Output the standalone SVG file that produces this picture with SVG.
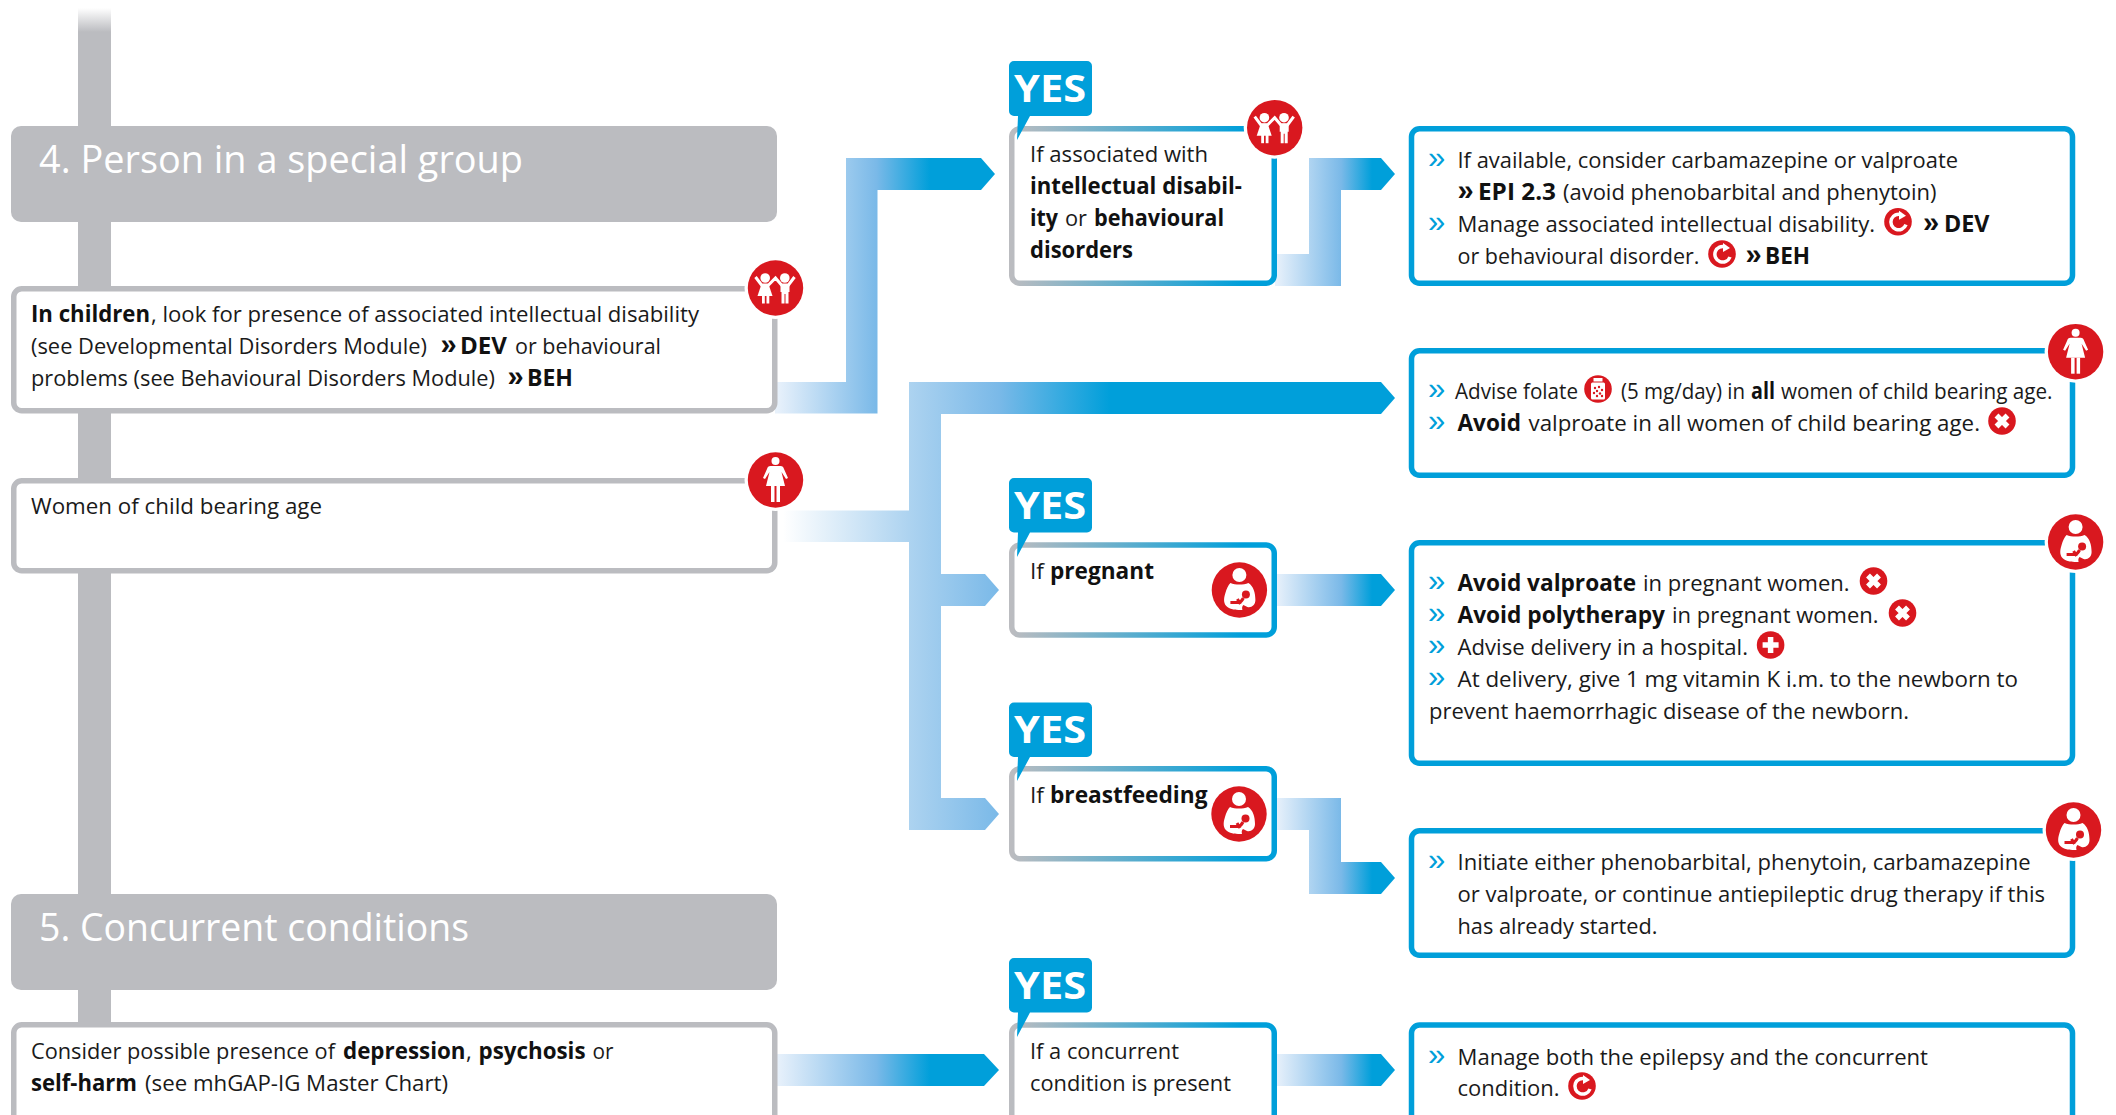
<svg xmlns="http://www.w3.org/2000/svg" width="2116" height="1115" viewBox="0 0 2116 1115">
<style>
text{font-family:"Open Sans","Noto Sans","Liberation Sans",sans-serif;font-size:22.5px;fill:#1a1a1a}
.b{font-weight:700;fill:#111}
.h{font-size:38px;fill:#fff}
.y{font-size:37px;font-weight:700;fill:#fff}
.m{font-family:"Liberation Sans",Arial,sans-serif;font-weight:400;fill:#009fda;font-size:31px}
.d{font-family:"Liberation Sans",Arial,sans-serif;font-weight:700;fill:#111;font-size:29px}
.gb{fill:#fff;stroke:#bbbcc0;stroke-width:5.5}
.bb{fill:#fff;stroke:#009fda;stroke-width:5.5}
.mb{fill:#fff;stroke:url(#bord);stroke-width:5.5}
.hd{fill:#bbbcc0}
.yb{fill:#009fda}
.r{fill:#d9181f}
.w{fill:#fff}
.ws{fill:none;stroke:#fff}
</style>
<defs>
<linearGradient id="fade" x1="0" y1="0" x2="0" y2="1"><stop offset="0" stop-color="#fff"/><stop offset="1" stop-color="#bbbcc0"/></linearGradient>
<linearGradient id="bord" x1="0" y1="0" x2="1" y2="0"><stop offset="0" stop-color="#bbbcc0"/><stop offset="0.88" stop-color="#009fda"/></linearGradient>
<linearGradient id="g1" gradientUnits="userSpaceOnUse" x1="777" y1="0" x2="930" y2="0"><stop offset="0" stop-color="#e8f1fb"/><stop offset="0.65" stop-color="#7ab9e8"/><stop offset="1" stop-color="#009fda"/></linearGradient>
<linearGradient id="g2" gradientUnits="userSpaceOnUse" x1="1276" y1="0" x2="1372" y2="0"><stop offset="0" stop-color="#e8f1fb"/><stop offset="0.68" stop-color="#7ab9e8"/><stop offset="1" stop-color="#009fda"/></linearGradient>
<linearGradient id="g3" gradientUnits="userSpaceOnUse" x1="783" y1="0" x2="1110" y2="0"><stop offset="0" stop-color="#fff"/><stop offset="0.385" stop-color="#add3f0"/><stop offset="0.66" stop-color="#7ab9e8"/><stop offset="1" stop-color="#009fda"/></linearGradient>
<symbol id="i-child" viewBox="-28 -28 56 56" overflow="visible"><circle class="r" r="27.7"/><circle class="w" cx="-10.3" cy="-10" r="4.8"/><circle class="w" cx="9.3" cy="-10" r="4.8"/><path class="ws" stroke-width="3" d="M-20-11-14-3H-7L0-10 6-3H13L19-11"/><path class="w" d="M-14-4H-7L-3 8H-18Z"/><rect class="w" x="-13.5" y="7" width="2.8" height="8.5"/><rect class="w" x="-9" y="7" width="2.8" height="8.5"/><path class="w" d="M5-4H14V4H13V15.500H10V6H9V15.500H6V4H5Z"/></symbol>
<symbol id="i-woman" viewBox="-28 -28 56 56" overflow="visible"><circle class="r" r="27.7"/><circle class="w" cy="-19" r="4"/><path class="w" d="M-5-14H5C7-14 8-13 8.500-11L12.500-2 10.500-1 6-8 9.500 6H-9.500L-6-8-10.500-1-12.500-2-8.500-11C-8-13-7-14-5-14Z"/><rect class="w" x="-4.500" y="6" width="3.500" height="16"/><rect class="w" x="1" y="6" width="3.500" height="16"/></symbol>
<symbol id="i-mother" viewBox="-28 -28 56 56" overflow="visible"><circle class="r" r="27.7"/><circle class="w" cy="-15" r="7"/><path class="w" d="M-9-7C-4-5 4-5 9-7 14-4 16 3 16 10 16 15 12 18 8 17L4 15C2 17 3 19 3 20-2 20-8 20-12 17-16 14-16 9-14 3-13-1-11-5-9-7Z"/><circle class="r" cx="6.500" cy="4.500" r="4"/><path d="M-9 12.500H-1C2 12 3 10 4 8" fill="none" stroke="#d9181f" stroke-width="3"/><path d="M-2 9 1 14" fill="none" stroke="#d9181f" stroke-width="3"/></symbol>
<symbol id="i-c" viewBox="-14 -14 28 28" overflow="visible"><circle class="r" r="13.800"/><path class="ws" stroke-width="3.500" d="M3.500-7A7.800 7.800 0 1 0 8 3"/><path class="w" d="M1-11 8-6 1-2Z"/></symbol>
<symbol id="i-x" viewBox="-14 -14 28 28" overflow="visible"><circle class="r" r="13.800"/><path class="ws" stroke-width="5.500" d="M-5.500-5.500 5.500 5.500M5.500-5.500-5.500 5.500"/></symbol>
<symbol id="i-plus" viewBox="-14 -14 28 28" overflow="visible"><circle class="r" r="13.800"/><path class="ws" stroke-width="5.500" d="M0-8V8M-8 0H8"/></symbol>
<symbol id="i-bottle" viewBox="-14 -14 28 28" overflow="visible"><circle class="r" r="13.800"/><rect class="w" x="-4.500" y="-11" width="9" height="3.500"/><rect class="w" x="-7" y="-6.500" width="14" height="17" rx="1.500"/><g class="r"><circle cx="-3" cy="-1" r="1.200"/><circle cx="1" cy="-2" r="1.200"/><circle cx="4" cy="1" r="1.200"/><circle cx="-1" cy="2" r="1.200"/><circle cx="-4" cy="4" r="1.200"/><circle cx="2" cy="4.500" r="1.200"/><circle cx="-1" cy="7" r="1.200"/><circle cx="4" cy="7" r="1.200"/></g></symbol>
</defs>

<g id="spine"><rect x="78" y="8" width="33" height="24" fill="url(#fade)"/><rect class="hd" x="78" y="32" width="33" height="992"/></g>

<g id="connectors">
<path fill="url(#g1)" d="M775 382H846V158H981L995 174 981 190H877.500V413.600H775Z"/>
<path fill="url(#g2)" d="M1275 254H1309V158H1381L1395 174 1381 190H1341V286H1275Z"/>
<path fill="url(#g3)" d="M783 510.500H909V382H1381L1395 398 1381 414H941V574H985L999 590 985 606H941V798H985L999 814 985 830H909V542H783Z"/>
<path fill="url(#g2)" d="M1276 574H1381L1395 590 1381 606H1276Z"/>
<path fill="url(#g2)" d="M1276 798H1341V862H1381L1395 878 1381 894H1309V830H1276Z"/>
<path fill="url(#g1)" d="M775 1054H984L999 1070 984 1086H775Z"/>
<path fill="url(#g2)" d="M1276 1054H1381L1395 1070 1381 1086H1276Z"/>
</g>

<g id="header-4"><rect class="hd" x="11" y="126" width="766" height="96" rx="10"/><text class="h" x="39" y="172.500" textLength="484" lengthAdjust="spacingAndGlyphs">4. Person in a special group</text></g>

<g id="children"><rect class="gb" x="13.750" y="288.750" width="761" height="122" rx="8"/>
<text x="31" y="322"><tspan class="b" textLength="119" lengthAdjust="spacingAndGlyphs">In children</tspan></text><text x="151" y="322" textLength="548" lengthAdjust="spacingAndGlyphs">, look for presence of associated intellectual disability</text>
<text x="31" y="354" textLength="396" lengthAdjust="spacingAndGlyphs">(see Developmental Disorders Module)</text><text class="d" x="440.500" y="354">»</text><text class="b" x="460" y="354" textLength="47" lengthAdjust="spacingAndGlyphs">DEV</text><text x="515" y="354" textLength="146" lengthAdjust="spacingAndGlyphs">or behavioural</text>
<text x="31" y="386" textLength="464" lengthAdjust="spacingAndGlyphs">problems (see Behavioural Disorders Module)</text><text class="d" x="507.500" y="386">»</text><text class="b" x="527" y="386" textLength="46" lengthAdjust="spacingAndGlyphs">BEH</text>
<circle class="w" cx="775.500" cy="288" r="31"/><use href="#i-child" x="747.500" y="260" width="56" height="56"/></g>

<g id="women"><rect class="gb" x="13.750" y="480.750" width="761" height="90" rx="8"/><text x="31" y="514.300" textLength="291" lengthAdjust="spacingAndGlyphs">Women of child bearing age</text>
<circle class="w" cx="775.500" cy="480" r="31"/><use href="#i-woman" x="747.500" y="452" width="56" height="56"/></g>

<g id="header-5"><rect class="hd" x="11" y="894" width="766" height="96" rx="10"/><text class="h" x="39" y="940.700" textLength="430" lengthAdjust="spacingAndGlyphs">5. Concurrent conditions</text></g>

<g id="concurrent"><rect class="gb" x="13.750" y="1024.750" width="761" height="110" rx="8"/>
<text x="31" y="1059" textLength="304" lengthAdjust="spacingAndGlyphs">Consider possible presence of</text><text class="b" x="343" y="1059" textLength="122.500" lengthAdjust="spacingAndGlyphs">depression</text><text x="466" y="1059">,</text><text class="b" x="478.500" y="1059" textLength="107" lengthAdjust="spacingAndGlyphs">psychosis</text><text x="592.500" y="1059" textLength="21" lengthAdjust="spacingAndGlyphs">or</text>
<text class="b" x="31" y="1090.700" textLength="106" lengthAdjust="spacingAndGlyphs">self-harm</text><text x="145" y="1090.700" textLength="303" lengthAdjust="spacingAndGlyphs">(see mhGAP-IG Master Chart)</text></g>

<g id="q-intellectual"><rect class="mb" x="1011.750" y="128.750" width="262.500" height="154.500" rx="8"/>
<text x="1030" y="161.700" textLength="178" lengthAdjust="spacingAndGlyphs">If associated with</text><text class="b" x="1030" y="193.500" textLength="212" lengthAdjust="spacingAndGlyphs">intellectual disabil-</text><text class="b" x="1030" y="225.500" textLength="28" lengthAdjust="spacingAndGlyphs">ity</text><text x="1065" y="225.500" textLength="22" lengthAdjust="spacingAndGlyphs">or</text><text class="b" x="1094" y="225.500" textLength="130" lengthAdjust="spacingAndGlyphs">behavioural</text><text class="b" x="1030" y="257.500" textLength="103" lengthAdjust="spacingAndGlyphs">disorders</text>
<circle class="w" cx="1274.700" cy="127.700" r="31"/><use href="#i-child" x="1246.700" y="99.700" width="56" height="56"/>
<path class="yb" d="M1014 61H1087A5 5 0 0 1 1092 66V111A5 5 0 0 1 1087 116H1030L1017 140 1018 116H1014A5 5 0 0 1 1009 111V66A5 5 0 0 1 1014 61Z"/><text class="y" x="1014" y="101.500" textLength="72" lengthAdjust="spacingAndGlyphs">YES</text></g>

<g id="q-pregnant"><rect class="mb" x="1011.750" y="545" width="262.500" height="90" rx="8"/>
<text x="1030" y="579" textLength="14" lengthAdjust="spacingAndGlyphs">If</text><text class="b" x="1050" y="579" textLength="104" lengthAdjust="spacingAndGlyphs">pregnant</text>
<use href="#i-mother" x="1211.400" y="562" width="56" height="56"/>
<path class="yb" d="M1014 478H1087A5 5 0 0 1 1092 483V527.500A5 5 0 0 1 1087 532.500H1030L1017 557 1018 532.500H1014A5 5 0 0 1 1009 527.500V483A5 5 0 0 1 1014 478Z"/><text class="y" x="1014" y="518.500" textLength="72" lengthAdjust="spacingAndGlyphs">YES</text></g>

<g id="q-breastfeeding"><rect class="mb" x="1011.750" y="768.750" width="262.500" height="90" rx="8"/>
<text x="1030" y="803" textLength="14" lengthAdjust="spacingAndGlyphs">If</text><text class="b" x="1050" y="803" textLength="157.500" lengthAdjust="spacingAndGlyphs">breastfeeding</text>
<use href="#i-mother" x="1211" y="786" width="56" height="56"/>
<path class="yb" d="M1014 702.500H1087A5 5 0 0 1 1092 707.500V752A5 5 0 0 1 1087 757H1030L1017 781 1018 757H1014A5 5 0 0 1 1009 752V707.500A5 5 0 0 1 1014 702.500Z"/><text class="y" x="1014" y="743" textLength="72" lengthAdjust="spacingAndGlyphs">YES</text></g>

<g id="q-concurrent"><rect class="mb" x="1011.750" y="1025" width="262.500" height="110" rx="8"/>
<text x="1030" y="1059" textLength="149" lengthAdjust="spacingAndGlyphs">If a concurrent</text><text x="1030" y="1091" textLength="201" lengthAdjust="spacingAndGlyphs">condition is present</text>
<path class="yb" d="M1014 958H1087A5 5 0 0 1 1092 963V1007.500A5 5 0 0 1 1087 1012.500H1030L1017 1037 1018 1012.500H1014A5 5 0 0 1 1009 1007.500V963A5 5 0 0 1 1014 958Z"/><text class="y" x="1014" y="998.500" textLength="72" lengthAdjust="spacingAndGlyphs">YES</text></g>

<g id="a-intellectual"><rect class="bb" x="1411.500" y="128.750" width="661" height="154.500" rx="8"/>
<text class="m" x="1428" y="168">»</text><text x="1457.500" y="168" textLength="500.500" lengthAdjust="spacingAndGlyphs">If available, consider carbamazepine or valproate</text>
<text class="d" x="1457.500" y="200">»</text><text class="b" x="1478" y="200" textLength="78" lengthAdjust="spacingAndGlyphs">EPI 2.3</text><text x="1563" y="200" textLength="373.500" lengthAdjust="spacingAndGlyphs">(avoid phenobarbital and phenytoin)</text>
<text class="m" x="1428" y="232">»</text><text x="1457.500" y="232" textLength="417.500" lengthAdjust="spacingAndGlyphs">Manage associated intellectual disability.</text><use href="#i-c" x="1884" y="207.700" width="28" height="28"/><text class="d" x="1923" y="232">»</text><text class="b" x="1944" y="232" textLength="45.500" lengthAdjust="spacingAndGlyphs">DEV</text>
<text x="1457.500" y="264" textLength="242" lengthAdjust="spacingAndGlyphs">or behavioural disorder.</text><use href="#i-c" x="1708" y="240" width="28" height="28"/><text class="d" x="1745.500" y="264">»</text><text class="b" x="1765" y="264" textLength="45" lengthAdjust="spacingAndGlyphs">BEH</text></g>

<g id="a-women"><rect class="bb" x="1411.500" y="350.750" width="661" height="124.500" rx="8"/>
<text class="m" x="1428" y="398.500">»</text><text x="1455" y="399" textLength="123" lengthAdjust="spacingAndGlyphs">Advise folate</text><use href="#i-bottle" x="1584" y="375" width="28" height="28"/><text x="1621" y="399" textLength="124" lengthAdjust="spacingAndGlyphs">(5 mg/day) in</text><text class="b" x="1751" y="399" textLength="24" lengthAdjust="spacingAndGlyphs">all</text><text x="1781" y="399" textLength="271.500" lengthAdjust="spacingAndGlyphs">women of child bearing age.</text>
<text class="m" x="1428" y="430.500">»</text><text class="b" x="1457.500" y="430.500" textLength="63.500" lengthAdjust="spacingAndGlyphs">Avoid</text><text x="1528.500" y="430.500" textLength="451.500" lengthAdjust="spacingAndGlyphs">valproate in all women of child bearing age.</text><use href="#i-x" x="1988" y="407" width="28" height="28"/>
<circle class="w" cx="2075.600" cy="351.700" r="31"/><use href="#i-woman" x="2047.600" y="323.700" width="56" height="56"/></g>

<g id="a-pregnant"><rect class="bb" x="1411.500" y="542.750" width="661" height="220.500" rx="8"/>
<text class="m" x="1428" y="591">»</text><text class="b" x="1457.500" y="591" textLength="178.500" lengthAdjust="spacingAndGlyphs">Avoid valproate</text><text x="1643" y="591" textLength="206.500" lengthAdjust="spacingAndGlyphs">in pregnant women.</text><use href="#i-x" x="1859.500" y="567" width="28" height="28"/>
<text class="m" x="1428" y="623">»</text><text class="b" x="1457.500" y="623" textLength="207.500" lengthAdjust="spacingAndGlyphs">Avoid polytherapy</text><text x="1672" y="623" textLength="206.500" lengthAdjust="spacingAndGlyphs">in pregnant women.</text><use href="#i-x" x="1888.500" y="599" width="28" height="28"/>
<text class="m" x="1428" y="655">»</text><text x="1457.500" y="655" textLength="290.500" lengthAdjust="spacingAndGlyphs">Advise delivery in a hospital.</text><use href="#i-plus" x="1756.600" y="631" width="28" height="28"/>
<text class="m" x="1428" y="687">»</text><text x="1457.500" y="687" textLength="560.500" lengthAdjust="spacingAndGlyphs">At delivery, give 1 mg vitamin K i.m. to the newborn to</text>
<text x="1429" y="719" textLength="480" lengthAdjust="spacingAndGlyphs">prevent haemorrhagic disease of the newborn.</text>
<circle class="w" cx="2075.600" cy="542" r="31"/><use href="#i-mother" x="2047.600" y="514" width="56" height="56"/></g>

<g id="a-breastfeeding"><rect class="bb" x="1411.500" y="830.750" width="661" height="124.500" rx="8"/>
<text class="m" x="1428" y="870">»</text><text x="1457.500" y="870" textLength="573" lengthAdjust="spacingAndGlyphs">Initiate either phenobarbital, phenytoin, carbamazepine</text>
<text x="1457.500" y="902" textLength="587.500" lengthAdjust="spacingAndGlyphs">or valproate, or continue antiepileptic drug therapy if this</text>
<text x="1457.500" y="934" textLength="200" lengthAdjust="spacingAndGlyphs">has already started.</text>
<circle class="w" cx="2073.500" cy="830" r="31"/><use href="#i-mother" x="2045.500" y="802" width="56" height="56"/></g>

<g id="a-concurrent"><rect class="bb" x="1411.500" y="1025" width="661" height="110" rx="8"/>
<text class="m" x="1428" y="1064.500">»</text><text x="1457.500" y="1064.500" textLength="470.500" lengthAdjust="spacingAndGlyphs">Manage both the epilepsy and the concurrent</text>
<text x="1457.500" y="1096" textLength="102" lengthAdjust="spacingAndGlyphs">condition.</text><use href="#i-c" x="1568" y="1072" width="28" height="28"/></g>
</svg>
